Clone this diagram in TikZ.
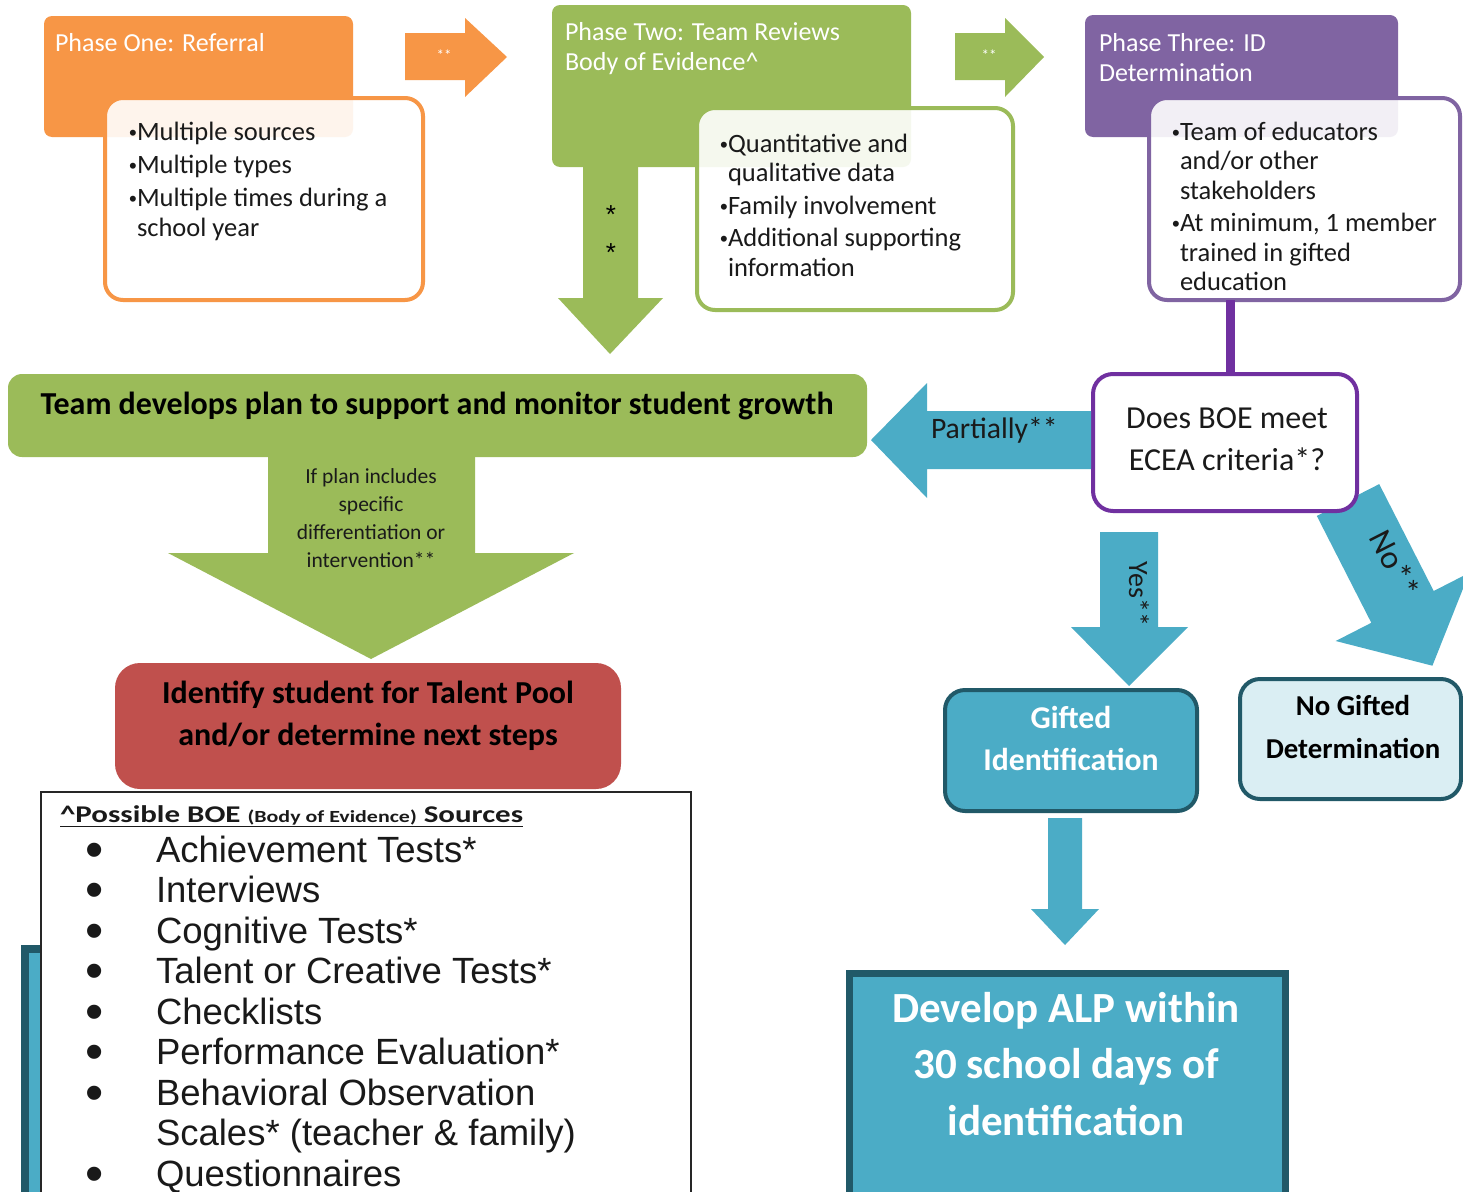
\documentclass[tikz,border=0pt]{standalone}
\usepackage{fontspec}
\setmainfont{Carlito}
\newfontfamily\arialfont{Liberation Sans}
\definecolor{cOrange}{HTML}{F79646}
\definecolor{cGreen}{HTML}{9BBB59}
\definecolor{cPurpleH}{HTML}{8064A2}
\definecolor{cPurple}{HTML}{7030A0}
\definecolor{cBlue}{HTML}{4BACC6}
\definecolor{cTeal}{HTML}{215968}
\definecolor{cLight}{HTML}{DAEEF3}
\definecolor{cRed}{HTML}{C0504D}
\definecolor{cText}{HTML}{1A1A1A}
\newcommand\fs[2]{\fontsize{#1pt}{#2pt}\selectfont}
\newcommand\bul{\hbox to 8pt{{\arialfont\fontsize{22pt}{22pt}\selectfont•}\hss}}
\newcommand\hang{\hspace*{8pt}}
\newcommand\cl[1]{\hbox to 0pt{\hss#1\hss}}
\newcommand\li[1]{\hbox{\hbox to 30pt{\hss\raisebox{-5pt}{\fontsize{52pt}{52pt}\selectfont•}\hss}\hskip46pt #1}}
\begin{document}
\begin{tikzpicture}[x=1pt,y=-1pt,
  every node/.style={inner sep=0pt, outer sep=0pt},
  hdr/.style={anchor=north west, rounded corners=8pt},
  wbox/.style={anchor=north west, draw, line width=4pt, rounded corners=18pt, fill=white, fill opacity=0.9},
  htext/.style={anchor=base west, text=white},
  btext/.style={anchor=base west, text=cText},
  blkarrow/.style={fill=cBlue},
]
\useasboundingbox (0,0) rectangle (1463,1191);
\fill[white] (0,0) rectangle (1463,1191);

% ---------- Phase One ----------
\node[hdr, fill=cOrange, minimum width=309pt, minimum height=121pt] (h1) at (44,16) {};
\node[wbox, draw=cOrange, minimum width=318pt, minimum height=202pt] (w1) at (105,98) {};
\node[htext, font=\fs{26}{30}] (h1t) at (55,51) {Phase One: Referral};
\node[btext] (w1t) at (129,140) {\vtop{\fs{26.5}{30}\hbox{\bul Multiple sources}\vskip3pt
  \hbox{\bul Multiple types}\vskip3pt\hbox{\bul Multiple times during a}\hbox{\hang school year}}};
% orange arrow
\fill[cOrange] (405,33) -- (465,33) -- (465,18) -- (507,57) -- (465,97) -- (465,80) -- (405,80) -- cycle;
\node[text=white, font=\fs{15}{18}] (a1t) at (444,55) {**};

% ---------- Phase Two ----------
\node[hdr, fill=cGreen, minimum width=359pt, minimum height=162pt] (h2) at (552,5) {};
\fill[cGreen] (583,160) -- (638,160) -- (638,298) -- (663,298) -- (610,354) -- (558,298) -- (583,298) -- cycle;
\node[font=\arialfont\fs{26}{30}, text=black] (s1) at (611,215) {*};
\node[font=\arialfont\fs{26}{30}, text=black] (s2) at (611,253) {*};
\node[wbox, draw=cGreen, minimum width=316pt, minimum height=202pt] (w2) at (697,108) {};
\node[htext] (h2t) at (565,40) {\vtop{\fs{26}{30}\hbox{Phase Two: Team Reviews}\hbox{Body of Evidence\textasciicircum}}};
\node[btext] (w2t) at (720,152) {\vtop{\fs{26.5}{29.5}\hbox{\bul Quantitative and}\hbox{\hang qualitative data}\vskip3pt
  \hbox{\bul Family involvement}\vskip3pt\hbox{\bul Additional supporting}\hbox{\hang information}}};
% green arrow
\fill[cGreen] (955,33) -- (1005,33) -- (1005,18) -- (1044,57) -- (1005,97) -- (1005,80) -- (955,80) -- cycle;
\node[text=white, font=\fs{15}{18}] (a2t) at (989,55) {**};

% ---------- Phase Three ----------
\node[hdr, fill=cPurpleH, minimum width=313pt, minimum height=122pt] (h3) at (1085,15) {};
\node[wbox, draw=cPurpleH, minimum width=311pt, minimum height=202pt] (w3) at (1149,98) {};
\node[htext] (h3t) at (1099,51) {\vtop{\fs{26}{30}\hbox{Phase Three: ID}\hbox{Determination}}};
\node[btext] (w3t) at (1172,140) {\vtop{\fs{26.5}{29.5}\hbox{\bul Team of educators}\hbox{\hang and/or other}\hbox{\hang stakeholders}\vskip3pt
  \hbox{\bul At minimum, 1 member}\hbox{\hang trained in gifted}\hbox{\hang education}}};

% ---------- Decision ----------
\fill[blkarrow] (1316.8,515.9) -- (1379.2,484.1) -- (1433.7,591.0) -- (1469.3,572.8) -- (1432.4,665.7) -- (1335.7,641.0) -- (1371.3,622.8) -- cycle;
\node[draw=cPurple, line width=4pt, fill=white, rounded corners=20pt, anchor=north west, minimum width=264pt, minimum height=137pt] (dec) at (1093,374) {};
\coordinate (pl) at (1230,0);
\draw[cPurple, line width=9pt] (w3.south -| pl) -- (dec.north -| pl);
\node[text=cText, anchor=base] (dect) at (1227,428) {\vtop{\fs{32}{42}\cl{Does BOE meet}\cl{ECEA criteria*?}}};
% partially arrow
\fill[blkarrow] (1091,411) -- (927,411) -- (927,383) -- (871,440) -- (927,498) -- (927,469) -- (1091,469) -- cycle;
\node[anchor=base west, text=cText, font=\fs{29.7}{34}] (pt) at (931,438) {Partially**};
% yes arrow
\fill[blkarrow] (1100,532) -- (1158,532) -- (1158,627) -- (1188,627) -- (1129,686) -- (1071,627) -- (1100,627) -- cycle;
\node[rotate=-90, text=cText, font=\fs{28}{32}] (yt) at (1139,594) {Yes**};
\node[rotate=-63, text=cText, font=\fs{33}{36}] (nt) at (1395,564) {No**};

% ---------- Green bar ----------
\node[anchor=north west, fill=cGreen, rounded corners=14pt, minimum width=859pt, minimum height=83pt] (bar) at (8,374) {};
\fill[cGreen] (268,450) -- (475,450) -- (475,553) -- (574,553) -- (371,659) -- (168,553) -- (268,553) -- cycle;
\node[anchor=base, text=black, font=\fs{32}{36}\bfseries] (bart) at (437,414) {Team develops plan to support and monitor student growth};
\node[anchor=base, text=cText] (gat) at (371,483) {\vtop{\fs{21.5}{28}\cl{If plan includes}\cl{specific}\cl{differentiation or}\cl{intervention**}}};

% ---------- Red box ----------
\node[anchor=north west, fill=cRed, rounded corners=25pt, minimum width=506pt, minimum height=126pt] (red) at (115,663) {};
\node[anchor=base, text=black] (redt) at (368,703) {\vtop{\fs{32}{42}\bfseries\cl{Identify student for Talent Pool}\cl{and/or determine next steps}}};

% ---------- BOE list ----------
\node[anchor=north west, fill=cBlue, draw=cTeal, line width=8pt, minimum width=300pt, minimum height=300pt] (hid) at (25,949) {};
\node[anchor=north west, fill=white, draw=black!85, line width=1.5pt, minimum width=650pt, minimum height=420pt] (boe) at (41,792) {};
\node[anchor=base west, text=cText] (boet) at (60,822) {\scalebox{1.29}[1]{\bfseries\underline{\fs{24}{28}\textasciicircum Possible BOE {\fs{17}{20}(Body of Evidence)} Sources}}};
\node[anchor=base west, text=black!90] (list) at (80,862) {\vtop{\arialfont\fs{36.5}{40.5}%
  \li{Achievement Tests*}\li{Interviews}\li{Cognitive Tests*}\li{Talent or Creative Tests*}%
  \li{Checklists}\li{Performance Evaluation*}\li{Behavioral Observation}%
  \hbox{\hskip76pt Scales* (teacher \& family)}\li{Questionnaires}}};

% ---------- Gifted / No Gifted ----------
\node[anchor=north west, fill=cBlue, draw=cTeal, line width=4pt, rounded corners=20pt, minimum width=252pt, minimum height=121pt] (gift) at (945,690) {};
\node[anchor=base, text=white] (giftt) at (1071,728) {\vtop{\fs{31.7}{42}\bfseries\cl{Gifted}\cl{Identification}}};
\node[anchor=north west, fill=cLight, draw=cTeal, line width=4pt, rounded corners=20pt, minimum width=221pt, minimum height=120pt] (nog) at (1240,679) {};
\node[anchor=base, text=black] (nogt) at (1353,715) {\vtop{\fs{28.8}{43}\bfseries\cl{No Gifted}\cl{Determination}}};
\fill[blkarrow] (1048,818) -- (1082,818) -- (1082,909) -- (1099,909) -- (1065,945) -- (1031,909) -- (1048,909) -- cycle;

% ---------- ALP ----------
\node[anchor=north west, fill=cBlue, draw=cTeal, line width=7pt, minimum width=436pt, minimum height=260pt] (alp) at (849,973) {};
\node[anchor=base, text=white] (alpt) at (1066,1022) {\vtop{\fs{43}{56.5}\bfseries\cl{Develop ALP within}\cl{30 school days of}\cl{identification}}};
\end{tikzpicture}
\end{document}
